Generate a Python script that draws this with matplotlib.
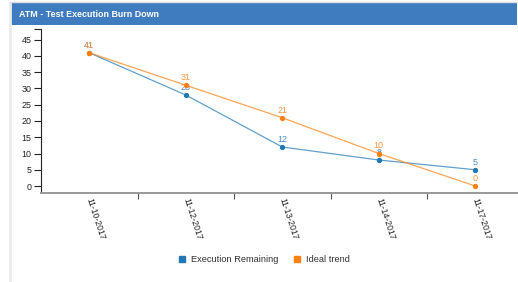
import matplotlib.pyplot as plt
import matplotlib.patches as mpatches
from matplotlib.lines import Line2D
from matplotlib.ticker import FixedLocator

plt.rcParams['font.family'] = ['Liberation Sans', 'DejaVu Sans']

dates = ['11-10-2017', '11-12-2017', '11-13-2017', '11-14-2017', '11-17-2017']
remaining = [41, 28, 12, 8, 5]
ideal = [41, 31, 21, 10, 0]
yticks = [0, 5, 10, 15, 20, 25, 30, 35, 40, 45]

blue = '#1f77b4'
orange = '#ff7f0e'

W, H = 518, 282
fig = plt.figure(figsize=(W / 100, H / 100), dpi=100)

# panel frame + header
fig.add_artist(Line2D([10 / W, 10 / W], [0, 1 - 3 / H], transform=fig.transFigure,
                      color='#ececec', lw=2))
fig.add_artist(Line2D([10 / W, 1], [1 - 2 / H, 1 - 2 / H], transform=fig.transFigure,
                      color='#dddddd', lw=1))
fig.add_artist(mpatches.Rectangle((10 / W, 1 - 25 / H), 507 / W, 22 / H,
                                  transform=fig.transFigure, color='#3f7cbf', lw=0))
fig.text(19 / W, 1 - 14.5 / H, 'ATM - Test Execution Burn Down', color='white',
         fontsize=6.4, fontweight='bold', va='center', ha='left')

ax = fig.add_axes([41 / W, 1 - 193 / H, 1 - 41 / W, (193 - 29) / H])
x = list(range(len(dates)))

# labels first, then lines/markers on top (like the svg)
for xi, v in zip(x, remaining):
    ax.annotate(str(v), (xi, v), xytext=(0, 2.2), textcoords='offset points',
                ha='center', va='bottom', fontsize=6.5, color='#4a8fc6', zorder=1)
for xi, v in zip(x, ideal):
    ax.annotate(str(v), (xi, v), xytext=(0, 2.2), textcoords='offset points',
                ha='center', va='bottom', fontsize=6.5, color='#ff9340', zorder=1)

ax.plot(x, remaining, color=blue, lw=0.9, alpha=0.7, zorder=2)
ax.plot(x, remaining, 'o', color=blue, ms=2.8, zorder=3)
ax.plot(x, ideal, color=orange, lw=0.9, alpha=0.7, zorder=2)
ax.plot(x, ideal, 'o', color=orange, ms=2.8, zorder=3)

ymin, ymax = -2.15, 48.3
ax.set_ylim(ymin, ymax)
ax.set_xlim(-0.5, (W - 41) / 96.5 - 0.5)

ax.set_yticks(yticks)
ax.set_yticklabels([str(t) for t in yticks], fontsize=6.4, color='#222222')
ax.yaxis.set_minor_locator(FixedLocator([ymax]))
ax.tick_params(axis='y', which='both', length=5, width=0.8, pad=2, color='#222222')

ax.set_xticks(x)
ax.set_xticklabels(dates, fontsize=6.2, color='#222222', rotation=-72,
                   ha='left', va='center', rotation_mode='anchor')
ax.tick_params(axis='x', which='major', length=0, pad=4)
ax.xaxis.set_minor_locator(FixedLocator([0.5, 1.5, 2.5, 3.5]))
ax.tick_params(axis='x', which='minor', length=4, width=0.8, color='#555555')

for s in ['top', 'right']:
    ax.spines[s].set_visible(False)
ax.spines['left'].set_color('#222222')
ax.spines['left'].set_linewidth(0.8)
ax.spines['bottom'].set_color('#999999')
ax.spines['bottom'].set_linewidth(1.4)
ax.set_facecolor('none')

handles = [Line2D([], [], marker='s', ls='none', color=blue, ms=5),
           Line2D([], [], marker='s', ls='none', color=orange, ms=5)]
fig.legend(handles, ['Execution Remaining', 'Ideal trend'], loc='center',
           bbox_to_anchor=(264 / W, 1 - 260 / H), ncol=2, frameon=False,
           fontsize=6.7, handlelength=0.8, handletextpad=0.6, columnspacing=1.6,
           labelcolor='#333333')

fig.savefig('out.png', dpi=100)
